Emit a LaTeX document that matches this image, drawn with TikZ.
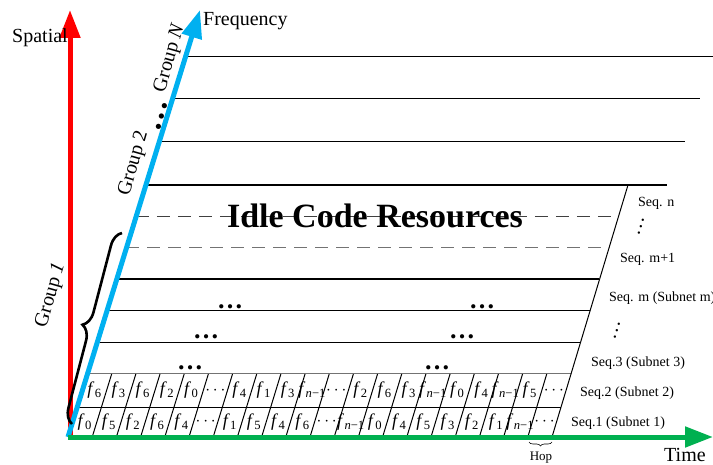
\documentclass[tikz,border=0pt]{standalone}
\usepackage{fontspec}
\setmainfont{Liberation Serif}
\usetikzlibrary{arrows.meta,decorations.pathreplacing,calc}
\definecolor{spred}{RGB}{255,0,0}
\definecolor{fqblue}{RGB}{0,176,240}
\definecolor{tmgreen}{RGB}{0,176,80}
\newcommand{\fq}[1]{\textit{f}\kern0.02em\textsubscript{#1}}
\newcommand{\fnm}{\fq{\textit{n}−1}}
\newcommand{\celldots}{$\cdots$}
\tikzset{
  axisarrow/.style={line width=5pt, -{Triangle[length=28pt,width=20pt]}},
  rowline/.style={line width=1pt, black},
  grayline/.style={line width=1pt, black!55},
  thickline/.style={line width=2.6pt, black},
  dashblack/.style={line width=1pt, black!75, dash pattern=on 13pt off 8pt},
  dashgray/.style={line width=1pt, black!55, dash pattern=on 13pt off 8pt},
  celllab/.style={inner sep=0pt, font=\fontsize{18}{18}\selectfont},
  seqlab/.style={inner sep=0pt, anchor=west, font=\fontsize{14}{14}\selectfont},
  seqdots/.style={inner sep=0pt, rotate=73, font=\fontsize{20}{20}\selectfont},
  axislab/.style={inner sep=0pt, anchor=base west, font=\fontsize{20}{20}\selectfont},
  grouplab/.style={inner sep=0pt, rotate=74, font=\fontsize{20}{20}\selectfont},
  bolddots/.style={inner sep=0pt, font=\fontsize{26}{26}\selectfont\bfseries}
}
\begin{document}
\begin{tikzpicture}[x=1pt, y=-1pt]
\useasboundingbox (0,0) rectangle (713,465);
% frequency groups above
\foreach \yy/\xe in {57/713, 99/700, 142/685}
  \draw[rowline] ({68+0.309*(437-\yy)},\yy) -- (\xe,\yy);
\draw[thickline] ({68+0.309*(437-185)},185) -- (667,185);
% sequences of group 1
\foreach \yy/\sty in {217/dashblack, 248/dashgray, 279/thickline, 311/rowline, 343/rowline, 374/grayline, 407/rowline}
  \draw[\sty] ({68+0.309*(437-\yy)},\yy) -- ({552+0.30*(437-\yy)},\yy);
\draw[rowline] (552,437) -- (628,185);
\node[inner sep=0pt, font=\fontsize{34}{34}\selectfont\bfseries] (idle) at (375,216) {Idle Code Resources};
\node[bolddots] (d5a) at (230,307) {…};
\node[bolddots] (d5b) at (482,307) {…};
\node[bolddots] (d4a) at (206,337) {…};
\node[bolddots] (d4b) at (462,337) {…};
\node[bolddots] (d3a) at (190,368) {…};
\node[bolddots] (d3b) at (437,368) {…};
% hopping cells
\foreach \i in {1,...,19}
  \draw[rowline] ({68+24.2*\i},437) -- ({87.5+24.17*\i},374);
\foreach \lab [count=\i from 0] in {\fq0,\fq5,\fq2,\fq6,\fq4,\celldots,\fq1,\fq5,\fq4,\fq6,\celldots,\fnm,\fq0,\fq4,\fq5,\fq3,\fq2,\fq1,\fnm,\celldots}
  \node[celllab] (s1c\i) at ({72.6+24.2*(\i+0.5)},422) {\lab};
\foreach \lab [count=\i from 0] in {\fq6,\fq3,\fq6,\fq2,\fq0,\celldots,\fq4,\fq1,\fq3,\fnm,\celldots,\fq2,\fq6,\fq3,\fnm,\fq0,\fq4,\fnm,\fq5,\celldots}
  \node[celllab] (s2c\i) at ({82.4+24.18*(\i+0.5)},390.5) {\lab};
\coordinate (hopr) at (552,442);
\coordinate (hopl) at (529,442);
\draw[line width=0.6pt, decorate, decoration={brace, amplitude=4pt}] (hopr) -- (hopl);
\node[inner sep=0pt, font=\fontsize{13}{13}\selectfont] (hop) at (541,458) {Hop};
% sequence labels
\node[seqlab] (sqn) at (638,203) {Seq. n};
\node[seqdots] (vd1) at (641,227) {…};
\node[seqlab] (sqm1) at (620,259) {Seq. m+1};
\node[seqlab] (sqm) at (609,298) {Seq. m (Subnet m)};
\node[seqdots] (vd2) at (617,331) {…};
\node[seqlab] (sq3) at (591,363) {Seq.3 (Subnet 3)};
\node[seqlab] (sq2) at (580,393) {Seq.2 (Subnet 2)};
\node[seqlab] (sq1) at (571,423) {Seq.1 (Subnet 1)};
% axes
\coordinate (O) at (68,437);
\draw[axisarrow, spred] (70,437) -- (70,10);
\draw[axisarrow, fqblue] (O) -- (200,10);
\draw[axisarrow, tmgreen] (O) -- (713,437);
\node[axislab] (spatial) at (12,43) {Spatial};
\node[axislab] (freq) at (203,26) {Frequency};
\node[axislab] (time) at (664,461) {Time};
% groups
\coordinate (bra) at (72,424);
\coordinate (brb) at (122,233);
\draw[line width=2.6pt, decorate, decoration={brace, amplitude=15pt}] (bra) -- (brb);
\node[grouplab] (g1) at (51,295) {Group \textit{1}};
\node[grouplab] (g2) at (134,163) {Group 2};
\node[bolddots, rotate=74, font=\fontsize{32}{32}\selectfont\bfseries] (gdots) at (162,117) {…};
\node[grouplab] (gn) at (170,58) {Group \textit{N}};
\end{tikzpicture}
\end{document}
